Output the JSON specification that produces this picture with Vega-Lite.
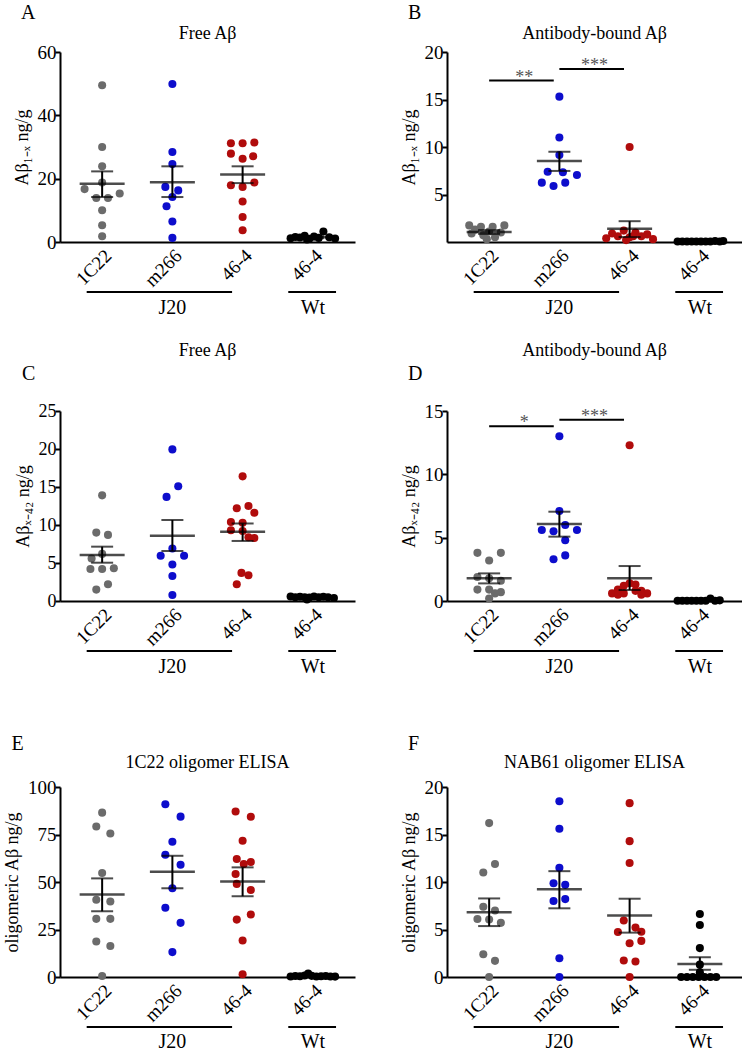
{
"$schema": "https://vega.github.io/schema/vega-lite/v6.json",
"background": "white",
"padding": {"left": 3, "top": 3, "right": 0, "bottom": 0},
"config": {
  "font": "Liberation Serif",
  "view": {"stroke": null},
  "axis": {"grid": false, "domainColor": "#000", "domainWidth": 2, "tickColor": "#000", "tickWidth": 2, "tickSize": 5, "labelFont": "Liberation Serif", "labelFontSize": 19, "labelColor": "#000", "titleFont": "Liberation Serif", "titleFontSize": 18, "titleFontWeight": "normal", "titleColor": "#000", "labelPadding": -1, "titlePadding": 6, "labelOverlap": false},
  "axisX": {"ticks": false, "labelAngle": -45, "labelPadding": 4},
  "title": {"font": "Liberation Serif", "fontWeight": "normal", "fontSize": 18, "color": "#000"},
  "text": {"font": "Liberation Serif"}
},
"datasets": {
  "pts": [
    {"panel":"A","group":"1C22","value":49.5,"col":0},{"panel":"A","group":"1C22","value":30,"col":0},{"panel":"A","group":"1C22","value":23.9,"col":0},{"panel":"A","group":"1C22","value":18.8,"col":0},{"panel":"A","group":"1C22","value":16.7,"col":-1.5},{"panel":"A","group":"1C22","value":15.3,"col":1.5},{"panel":"A","group":"1C22","value":13.9,"col":-0.5},{"panel":"A","group":"1C22","value":13.9,"col":0.5},{"panel":"A","group":"1C22","value":10,"col":0},{"panel":"A","group":"1C22","value":5.3,"col":0},{"panel":"A","group":"1C22","value":1.8,"col":0},
    {"panel":"A","group":"m266","value":49.9,"col":0},{"panel":"A","group":"m266","value":28.4,"col":0},{"panel":"A","group":"m266","value":24.6,"col":0},{"panel":"A","group":"m266","value":17.4,"col":-0.6},{"panel":"A","group":"m266","value":16.3,"col":0.5},{"panel":"A","group":"m266","value":14.2,"col":0},{"panel":"A","group":"m266","value":11.3,"col":-0.5},{"panel":"A","group":"m266","value":6.5,"col":0},{"panel":"A","group":"m266","value":1.3,"col":0},
    {"panel":"A","group":"46-4 J20","value":31.2,"col":-1},{"panel":"A","group":"46-4 J20","value":31.2,"col":0},{"panel":"A","group":"46-4 J20","value":31.4,"col":1},{"panel":"A","group":"46-4 J20","value":27.9,"col":-1},{"panel":"A","group":"46-4 J20","value":27.1,"col":0.9},{"panel":"A","group":"46-4 J20","value":26.3,"col":0},{"panel":"A","group":"46-4 J20","value":17.9,"col":-1},{"panel":"A","group":"46-4 J20","value":17.4,"col":0},{"panel":"A","group":"46-4 J20","value":18.8,"col":1},{"panel":"A","group":"46-4 J20","value":12.8,"col":0},{"panel":"A","group":"46-4 J20","value":7.9,"col":0},{"panel":"A","group":"46-4 J20","value":3.7,"col":0},
    {"panel":"A","group":"46-4 Wt","value":1.2,"col":-1.9},{"panel":"A","group":"46-4 Wt","value":1.6,"col":-1.5},{"panel":"A","group":"46-4 Wt","value":1.4,"col":-1.1},{"panel":"A","group":"46-4 Wt","value":2.0,"col":-0.7},{"panel":"A","group":"46-4 Wt","value":1.0,"col":-0.3},{"panel":"A","group":"46-4 Wt","value":1.7,"col":0.1},{"panel":"A","group":"46-4 Wt","value":1.3,"col":0.5},{"panel":"A","group":"46-4 Wt","value":0.8,"col":-0.5},{"panel":"A","group":"46-4 Wt","value":3.3,"col":0.9},{"panel":"A","group":"46-4 Wt","value":1.5,"col":1.4},{"panel":"A","group":"46-4 Wt","value":1.1,"col":1.9},

    {"panel":"B","group":"1C22","value":1.75,"col":-1.7},{"panel":"B","group":"1C22","value":1.6,"col":-0.7},{"panel":"B","group":"1C22","value":1.6,"col":0.3},{"panel":"B","group":"1C22","value":1.75,"col":1.3},{"panel":"B","group":"1C22","value":1.3,"col":-1.2},{"panel":"B","group":"1C22","value":1.1,"col":0},{"panel":"B","group":"1C22","value":1.0,"col":1},{"panel":"B","group":"1C22","value":0.7,"col":-0.5},{"panel":"B","group":"1C22","value":0.5,"col":0.5},{"panel":"B","group":"1C22","value":0.3,"col":-0.2},{"panel":"B","group":"1C22","value":0.9,"col":-1.5},
    {"panel":"B","group":"m266","value":15.3,"col":0},{"panel":"B","group":"m266","value":11.0,"col":0},{"panel":"B","group":"m266","value":9.15,"col":0},{"panel":"B","group":"m266","value":7.4,"col":-1},{"panel":"B","group":"m266","value":7.35,"col":0.3},{"panel":"B","group":"m266","value":7.05,"col":1.5},{"panel":"B","group":"m266","value":6.25,"col":-1.5},{"panel":"B","group":"m266","value":5.9,"col":-0.5},{"panel":"B","group":"m266","value":6.25,"col":0.5},
    {"panel":"B","group":"46-4 J20","value":10.0,"col":0},{"panel":"B","group":"46-4 J20","value":1.2,"col":-0.5},{"panel":"B","group":"46-4 J20","value":1.0,"col":0.5},{"panel":"B","group":"46-4 J20","value":0.9,"col":-1.5},{"panel":"B","group":"46-4 J20","value":0.8,"col":1.5},{"panel":"B","group":"46-4 J20","value":0.6,"col":-1},{"panel":"B","group":"46-4 J20","value":0.6,"col":1},{"panel":"B","group":"46-4 J20","value":0.5,"col":0},{"panel":"B","group":"46-4 J20","value":0.4,"col":-2},{"panel":"B","group":"46-4 J20","value":0.3,"col":2},{"panel":"B","group":"46-4 J20","value":0.2,"col":-0.3},{"panel":"B","group":"46-4 J20","value":0.6,"col":0.3},
    {"panel":"B","group":"46-4 Wt","value":0.05,"col":-1.9},{"panel":"B","group":"46-4 Wt","value":0.05,"col":-1.5},{"panel":"B","group":"46-4 Wt","value":0.05,"col":-1.1},{"panel":"B","group":"46-4 Wt","value":0.05,"col":-0.7},{"panel":"B","group":"46-4 Wt","value":0.05,"col":-0.3},{"panel":"B","group":"46-4 Wt","value":0.05,"col":0.1},{"panel":"B","group":"46-4 Wt","value":0.05,"col":0.5},{"panel":"B","group":"46-4 Wt","value":0.05,"col":0.9},{"panel":"B","group":"46-4 Wt","value":0.1,"col":1.3},{"panel":"B","group":"46-4 Wt","value":0.05,"col":1.7},{"panel":"B","group":"46-4 Wt","value":0.1,"col":2.0},

    {"panel":"C","group":"1C22","value":13.9,"col":0},{"panel":"C","group":"1C22","value":9.0,"col":-0.5},{"panel":"C","group":"1C22","value":8.7,"col":0.5},{"panel":"C","group":"1C22","value":6.2,"col":0},{"panel":"C","group":"1C22","value":5.6,"col":-0.9},{"panel":"C","group":"1C22","value":4.2,"col":-1},{"panel":"C","group":"1C22","value":4.2,"col":0},{"panel":"C","group":"1C22","value":4.3,"col":1},{"panel":"C","group":"1C22","value":1.5,"col":-0.5},{"panel":"C","group":"1C22","value":2.2,"col":0.5},
    {"panel":"C","group":"m266","value":19.95,"col":0},{"panel":"C","group":"m266","value":15.1,"col":0.5},{"panel":"C","group":"m266","value":13.7,"col":-0.5},{"panel":"C","group":"m266","value":6.9,"col":0},{"panel":"C","group":"m266","value":5.95,"col":-1},{"panel":"C","group":"m266","value":5.95,"col":1},{"panel":"C","group":"m266","value":4.8,"col":0},{"panel":"C","group":"m266","value":3.3,"col":0},{"panel":"C","group":"m266","value":0.8,"col":0},
    {"panel":"C","group":"46-4 J20","value":16.4,"col":0},{"panel":"C","group":"46-4 J20","value":12.2,"col":-0.5},{"panel":"C","group":"46-4 J20","value":12.5,"col":0.5},{"panel":"C","group":"46-4 J20","value":11.6,"col":1},{"panel":"C","group":"46-4 J20","value":10.4,"col":-1},{"panel":"C","group":"46-4 J20","value":10.3,"col":0},{"panel":"C","group":"46-4 J20","value":9.3,"col":-1},{"panel":"C","group":"46-4 J20","value":9.2,"col":0},{"panel":"C","group":"46-4 J20","value":8.4,"col":0.5},{"panel":"C","group":"46-4 J20","value":8.3,"col":1},{"panel":"C","group":"46-4 J20","value":3.7,"col":-0.1},{"panel":"C","group":"46-4 J20","value":3.4,"col":0.5},{"panel":"C","group":"46-4 J20","value":2.2,"col":-0.5},
    {"panel":"C","group":"46-4 Wt","value":0.6,"col":-1.9},{"panel":"C","group":"46-4 Wt","value":0.5,"col":-1.5},{"panel":"C","group":"46-4 Wt","value":0.55,"col":-1.1},{"panel":"C","group":"46-4 Wt","value":0.5,"col":-0.7},{"panel":"C","group":"46-4 Wt","value":0.45,"col":-0.3},{"panel":"C","group":"46-4 Wt","value":0.6,"col":0.1},{"panel":"C","group":"46-4 Wt","value":0.5,"col":0.5},{"panel":"C","group":"46-4 Wt","value":0.55,"col":0.9},{"panel":"C","group":"46-4 Wt","value":0.5,"col":1.3},{"panel":"C","group":"46-4 Wt","value":0.4,"col":1.8},{"panel":"C","group":"46-4 Wt","value":0.2,"col":-0.5},

    {"panel":"D","group":"1C22","value":3.8,"col":-1},{"panel":"D","group":"1C22","value":3.8,"col":1},{"panel":"D","group":"1C22","value":3.2,"col":0},{"panel":"D","group":"1C22","value":1.9,"col":-1},{"panel":"D","group":"1C22","value":1.8,"col":0},{"panel":"D","group":"1C22","value":1.6,"col":1},{"panel":"D","group":"1C22","value":0.9,"col":-1},{"panel":"D","group":"1C22","value":0.9,"col":0},{"panel":"D","group":"1C22","value":0.7,"col":1},{"panel":"D","group":"1C22","value":0.6,"col":0.5},{"panel":"D","group":"1C22","value":0.2,"col":0},
    {"panel":"D","group":"m266","value":13.0,"col":0},{"panel":"D","group":"m266","value":7.1,"col":0},{"panel":"D","group":"m266","value":5.6,"col":-1.5},{"panel":"D","group":"m266","value":5.5,"col":-0.5},{"panel":"D","group":"m266","value":5.6,"col":1.5},{"panel":"D","group":"m266","value":6.0,"col":0.5},{"panel":"D","group":"m266","value":4.8,"col":0.5},{"panel":"D","group":"m266","value":3.3,"col":-0.5},{"panel":"D","group":"m266","value":3.6,"col":0.5},
    {"panel":"D","group":"46-4 J20","value":12.3,"col":0},{"panel":"D","group":"46-4 J20","value":1.4,"col":0},{"panel":"D","group":"46-4 J20","value":1.2,"col":-0.5},{"panel":"D","group":"46-4 J20","value":1.3,"col":0.5},{"panel":"D","group":"46-4 J20","value":0.9,"col":-1},{"panel":"D","group":"46-4 J20","value":0.8,"col":1},{"panel":"D","group":"46-4 J20","value":0.6,"col":-1.5},{"panel":"D","group":"46-4 J20","value":0.6,"col":1.5},{"panel":"D","group":"46-4 J20","value":0.6,"col":-0.5},{"panel":"D","group":"46-4 J20","value":0.8,"col":0.5},{"panel":"D","group":"46-4 J20","value":0.5,"col":-1},{"panel":"D","group":"46-4 J20","value":0.5,"col":1},
    {"panel":"D","group":"46-4 Wt","value":0.02,"col":-1.9},{"panel":"D","group":"46-4 Wt","value":0.02,"col":-1.5},{"panel":"D","group":"46-4 Wt","value":0.02,"col":-1.1},{"panel":"D","group":"46-4 Wt","value":0.02,"col":-0.7},{"panel":"D","group":"46-4 Wt","value":0.02,"col":-0.3},{"panel":"D","group":"46-4 Wt","value":0.02,"col":0.1},{"panel":"D","group":"46-4 Wt","value":0.02,"col":0.5},{"panel":"D","group":"46-4 Wt","value":0.2,"col":0.9},{"panel":"D","group":"46-4 Wt","value":0.02,"col":1.3},{"panel":"D","group":"46-4 Wt","value":0.05,"col":1.7},

    {"panel":"E","group":"1C22","value":86.5,"col":0},{"panel":"E","group":"1C22","value":79.2,"col":-0.5},{"panel":"E","group":"1C22","value":75.5,"col":0.7},{"panel":"E","group":"1C22","value":54.7,"col":0},{"panel":"E","group":"1C22","value":40.7,"col":-0.5},{"panel":"E","group":"1C22","value":39.7,"col":0.7},{"panel":"E","group":"1C22","value":30.6,"col":-0.5},{"panel":"E","group":"1C22","value":30.6,"col":0.7},{"panel":"E","group":"1C22","value":18.7,"col":-0.5},{"panel":"E","group":"1C22","value":16.3,"col":0.7},{"panel":"E","group":"1C22","value":0.5,"col":0},
    {"panel":"E","group":"m266","value":90.9,"col":-0.6},{"panel":"E","group":"m266","value":84.4,"col":0.7},{"panel":"E","group":"m266","value":71.2,"col":0},{"panel":"E","group":"m266","value":64.3,"col":-0.6},{"panel":"E","group":"m266","value":59.1,"col":0.7},{"panel":"E","group":"m266","value":46.7,"col":0},{"panel":"E","group":"m266","value":36.4,"col":-0.6},{"panel":"E","group":"m266","value":28.5,"col":0.7},{"panel":"E","group":"m266","value":13.1,"col":0},
    {"panel":"E","group":"46-4 J20","value":87.1,"col":-0.6},{"panel":"E","group":"46-4 J20","value":84.3,"col":0.7},{"panel":"E","group":"46-4 J20","value":71.7,"col":0},{"panel":"E","group":"46-4 J20","value":62.1,"col":-0.5},{"panel":"E","group":"46-4 J20","value":60.5,"col":0.7},{"panel":"E","group":"46-4 J20","value":59.5,"col":0.1},{"panel":"E","group":"46-4 J20","value":54.2,"col":-0.6},{"panel":"E","group":"46-4 J20","value":49.0,"col":-0.5},{"panel":"E","group":"46-4 J20","value":45.8,"col":0.7},{"panel":"E","group":"46-4 J20","value":30.2,"col":-0.5},{"panel":"E","group":"46-4 J20","value":32.9,"col":0.7},{"panel":"E","group":"46-4 J20","value":19.2,"col":0},{"panel":"E","group":"46-4 J20","value":1.4,"col":0},
    {"panel":"E","group":"46-4 Wt","value":0.3,"col":-1.9},{"panel":"E","group":"46-4 Wt","value":0.5,"col":-1.5},{"panel":"E","group":"46-4 Wt","value":0.4,"col":-1.1},{"panel":"E","group":"46-4 Wt","value":1.8,"col":-0.4},{"panel":"E","group":"46-4 Wt","value":0.6,"col":-0.1},{"panel":"E","group":"46-4 Wt","value":0.3,"col":0.3},{"panel":"E","group":"46-4 Wt","value":0.4,"col":0.7},{"panel":"E","group":"46-4 Wt","value":0.5,"col":1.1},{"panel":"E","group":"46-4 Wt","value":0.3,"col":1.5},{"panel":"E","group":"46-4 Wt","value":0.2,"col":1.9},{"panel":"E","group":"46-4 Wt","value":0.8,"col":-0.7},

    {"panel":"F","group":"1C22","value":16.2,"col":0},{"panel":"F","group":"1C22","value":11.9,"col":0.5},{"panel":"F","group":"1C22","value":11.0,"col":-0.5},{"panel":"F","group":"1C22","value":7.4,"col":-0.5},{"panel":"F","group":"1C22","value":7.0,"col":0.5},{"panel":"F","group":"1C22","value":6.1,"col":-1},{"panel":"F","group":"1C22","value":6.05,"col":0},{"panel":"F","group":"1C22","value":5.7,"col":1},{"panel":"F","group":"1C22","value":2.4,"col":-0.5},{"panel":"F","group":"1C22","value":1.7,"col":0.5},{"panel":"F","group":"1C22","value":0,"col":0},
    {"panel":"F","group":"m266","value":18.5,"col":0},{"panel":"F","group":"m266","value":15.6,"col":0},{"panel":"F","group":"m266","value":11.5,"col":0},{"panel":"F","group":"m266","value":9.86,"col":-0.5},{"panel":"F","group":"m266","value":9.7,"col":0.5},{"panel":"F","group":"m266","value":8.0,"col":-0.5},{"panel":"F","group":"m266","value":8.2,"col":0.5},{"panel":"F","group":"m266","value":1.97,"col":0},{"panel":"F","group":"m266","value":0,"col":0},
    {"panel":"F","group":"46-4 J20","value":18.3,"col":0},{"panel":"F","group":"46-4 J20","value":14.3,"col":0},{"panel":"F","group":"46-4 J20","value":12.0,"col":0},{"panel":"F","group":"46-4 J20","value":5.95,"col":-0.5},{"panel":"F","group":"46-4 J20","value":5.2,"col":0.5},{"panel":"F","group":"46-4 J20","value":4.74,"col":-1},{"panel":"F","group":"46-4 J20","value":4.77,"col":1},{"panel":"F","group":"46-4 J20","value":3.56,"col":0},{"panel":"F","group":"46-4 J20","value":3.8,"col":1},{"panel":"F","group":"46-4 J20","value":1.73,"col":-0.5},{"panel":"F","group":"46-4 J20","value":1.63,"col":0.5},{"panel":"F","group":"46-4 J20","value":0,"col":0},
    {"panel":"F","group":"46-4 Wt","value":6.64,"col":0},{"panel":"F","group":"46-4 Wt","value":5.47,"col":0},{"panel":"F","group":"46-4 Wt","value":3.04,"col":0},{"panel":"F","group":"46-4 Wt","value":1.3,"col":0},{"panel":"F","group":"46-4 Wt","value":0,"col":-1.6},{"panel":"F","group":"46-4 Wt","value":0,"col":-1.1},{"panel":"F","group":"46-4 Wt","value":0,"col":-0.6},{"panel":"F","group":"46-4 Wt","value":0,"col":-0.1},{"panel":"F","group":"46-4 Wt","value":0,"col":0.4},{"panel":"F","group":"46-4 Wt","value":0,"col":0.9},{"panel":"F","group":"46-4 Wt","value":0,"col":1.4},{"panel":"F","group":"46-4 Wt","value":0.5,"col":0}
  ],
  "summ": [
    {"panel":"A","group":"1C22","mean":18.4,"lo":14.2,"hi":22.3},{"panel":"A","group":"m266","mean":18.9,"lo":14.2,"hi":23.9},{"panel":"A","group":"46-4 J20","mean":21.3,"lo":18.6,"hi":23.9},{"panel":"A","group":"46-4 Wt","mean":1.5,"lo":1.2,"hi":1.8},
    {"panel":"B","group":"1C22","mean":1.04,"lo":0.85,"hi":1.25},{"panel":"B","group":"m266","mean":8.52,"lo":7.48,"hi":9.5},{"panel":"B","group":"46-4 J20","mean":1.39,"lo":0.52,"hi":2.19},{"panel":"B","group":"46-4 Wt","mean":0.05,"lo":0.03,"hi":0.07},
    {"panel":"C","group":"1C22","mean":6.05,"lo":5.04,"hi":7.15},{"panel":"C","group":"m266","mean":8.6,"lo":6.58,"hi":10.66},{"panel":"C","group":"46-4 J20","mean":9.12,"lo":7.9,"hi":10.2},{"panel":"C","group":"46-4 Wt","mean":0.5,"lo":0.45,"hi":0.55},
    {"panel":"D","group":"1C22","mean":1.79,"lo":1.39,"hi":2.18},{"panel":"D","group":"m266","mean":6.08,"lo":5.08,"hi":7.05},{"panel":"D","group":"46-4 J20","mean":1.79,"lo":0.87,"hi":2.76},{"panel":"D","group":"46-4 Wt","mean":0.03,"lo":0.01,"hi":0.05},
    {"panel":"E","group":"1C22","mean":43.4,"lo":34.6,"hi":51.9},{"panel":"E","group":"m266","mean":55.4,"lo":46.7,"hi":63.8},{"panel":"E","group":"46-4 J20","mean":50.2,"lo":42.5,"hi":57.7},{"panel":"E","group":"46-4 Wt","mean":0.5,"lo":0.35,"hi":0.65},
    {"panel":"F","group":"1C22","mean":6.82,"lo":5.36,"hi":8.27},{"panel":"F","group":"m266","mean":9.24,"lo":7.23,"hi":11.14},{"panel":"F","group":"46-4 J20","mean":6.47,"lo":4.67,"hi":8.24},{"panel":"F","group":"46-4 Wt","mean":1.38,"lo":0.76,"hi":2.08}
  ],
  "sig": [
    {"panel":"B","from":"1C22","to":"m266","y":17,"label":"**"},{"panel":"B","from":"m266","to":"46-4 J20","y":18.2,"label":"***"},
    {"panel":"D","from":"1C22","to":"m266","y":13.8,"label":"*"},{"panel":"D","from":"m266","to":"46-4 J20","y":14.3,"label":"***"}
  ],
  "brk": [
    {"label":"J20","from":"1C22","mid":"m266","to":"46-4 J20"},
    {"label":"Wt","from":"46-4 Wt","mid":"46-4 Wt","to":"46-4 Wt"}
  ]
},
"spacing": 57,
"vconcat": [
 {"spacing": 24, "vconcat": [
  {"spacing": 45, "hconcat": [
   {"title": {"text": "A", "anchor": "start", "fontSize": 20, "offset": 2, "dx": 8}, "spacing": -2, "vconcat": [
    {"width": 295, "height": 190, "title": {"text": "Free Aβ", "anchor": "middle", "frame": "group", "offset": 0},
     "layer": [
      {"data": {"name": "pts"}, "transform": [{"filter": "datum.panel === 'A'"}], "mark": {"type": "circle", "size": 65, "opacity": 1},
       "encoding": {"x": {"field": "group", "type": "nominal", "scale": {"domain": ["1C22","m266","46-4 J20","46-4 Wt"], "paddingInner": 0, "paddingOuter": 0.1}, "axis": {"title": null, "labelExpr": "split(datum.value, ' ')[0]"}},
        "xOffset": {"field": "col", "type": "quantitative", "scale": {"domain": [-3, 3], "range": [0, 70.24]}},
        "y": {"field": "value", "type": "quantitative", "scale": {"domain": [0, 60], "nice": false}, "axis": {"values": [0, 20, 40, 60], "title": "Aβ₁₋ₓ ng/g", "labelOverlap": false}},
        "color": {"field": "group", "type": "nominal", "scale": {"domain": ["1C22","m266","46-4 J20","46-4 Wt"], "range": ["#6b6b6b","#0d0dcc","#b00c0c","#000000"]}, "legend": null}}},
      {"data": {"name": "summ"}, "transform": [{"filter": "datum.panel === 'A'"}], "mark": {"type": "tick", "size": 45, "thickness": 2.5, "color": "#000"},
       "encoding": {"x": {"field": "group", "type": "nominal", "bandPosition": 0.5}, "y": {"field": "mean", "type": "quantitative"}}},
      {"data": {"name": "summ"}, "transform": [{"filter": "datum.panel === 'A'"}], "mark": {"type": "rule", "strokeWidth": 2, "color": "#000"},
       "encoding": {"x": {"field": "group", "type": "nominal", "bandPosition": 0.5}, "y": {"field": "lo", "type": "quantitative"}, "y2": {"field": "hi"}}},
      {"data": {"name": "summ"}, "transform": [{"filter": "datum.panel === 'A'"}], "mark": {"type": "tick", "size": 22, "thickness": 2, "color": "#000"},
       "encoding": {"x": {"field": "group", "type": "nominal", "bandPosition": 0.5}, "y": {"field": "lo", "type": "quantitative"}}},
      {"data": {"name": "summ"}, "transform": [{"filter": "datum.panel === 'A'"}], "mark": {"type": "tick", "size": 22, "thickness": 2, "color": "#000"},
       "encoding": {"x": {"field": "group", "type": "nominal", "bandPosition": 0.5}, "y": {"field": "hi", "type": "quantitative"}}}
     ]},
    {"width": 295, "height": 2, "data": {"name": "brk"},
     "layer": [
      {"transform": [{"filter": "datum.label === 'J20'"}], "mark": {"type": "rule", "strokeWidth": 2, "color": "#000"},
       "encoding": {"x": {"field": "from", "type": "nominal", "bandPosition": 0.28, "scale": {"domain": ["1C22","m266","46-4 J20","46-4 Wt"], "paddingInner": 0, "paddingOuter": 0.1}, "axis": null}, "x2": {"field": "to", "bandPosition": 0.35}}},
      {"transform": [{"filter": "datum.label === 'Wt'"}], "mark": {"type": "rule", "strokeWidth": 2, "color": "#000"},
       "encoding": {"x": {"field": "from", "type": "nominal", "bandPosition": 0.15}, "x2": {"field": "to", "bandPosition": 0.83}}},
      {"mark": {"type": "text", "fontSize": 20, "baseline": "middle", "dy": 16, "color": "#000"},
       "encoding": {"x": {"field": "mid", "type": "nominal", "bandPosition": 0.5}, "text": {"field": "label"}}}
     ]}
   ]},
   {"title": {"text": "B", "anchor": "start", "fontSize": 20, "offset": 2, "dx": 8}, "spacing": -2, "vconcat": [
    {"width": 295, "height": 190, "title": {"text": "Antibody-bound Aβ", "anchor": "middle", "frame": "group", "offset": 0},
     "layer": [
      {"data": {"name": "pts"}, "transform": [{"filter": "datum.panel === 'B'"}], "mark": {"type": "circle", "size": 65, "opacity": 1},
       "encoding": {"x": {"field": "group", "type": "nominal", "scale": {"domain": ["1C22","m266","46-4 J20","46-4 Wt"], "paddingInner": 0, "paddingOuter": 0.1}, "axis": {"title": null, "labelExpr": "split(datum.value, ' ')[0]"}},
        "xOffset": {"field": "col", "type": "quantitative", "scale": {"domain": [-3, 3], "range": [0, 70.24]}},
        "y": {"field": "value", "type": "quantitative", "scale": {"domain": [0, 20], "nice": false}, "axis": {"values": [5, 10, 15, 20], "title": "Aβ₁₋ₓ ng/g", "labelOverlap": false}},
        "color": {"field": "group", "type": "nominal", "scale": {"domain": ["1C22","m266","46-4 J20","46-4 Wt"], "range": ["#6b6b6b","#0d0dcc","#b00c0c","#000000"]}, "legend": null}}},
      {"data": {"name": "summ"}, "transform": [{"filter": "datum.panel === 'B'"}], "mark": {"type": "tick", "size": 45, "thickness": 2.5, "color": "#000"},
       "encoding": {"x": {"field": "group", "type": "nominal", "bandPosition": 0.5}, "y": {"field": "mean", "type": "quantitative"}}},
      {"data": {"name": "summ"}, "transform": [{"filter": "datum.panel === 'B'"}], "mark": {"type": "rule", "strokeWidth": 2, "color": "#000"},
       "encoding": {"x": {"field": "group", "type": "nominal", "bandPosition": 0.5}, "y": {"field": "lo", "type": "quantitative"}, "y2": {"field": "hi"}}},
      {"data": {"name": "summ"}, "transform": [{"filter": "datum.panel === 'B'"}], "mark": {"type": "tick", "size": 22, "thickness": 2, "color": "#000"},
       "encoding": {"x": {"field": "group", "type": "nominal", "bandPosition": 0.5}, "y": {"field": "lo", "type": "quantitative"}}},
      {"data": {"name": "summ"}, "transform": [{"filter": "datum.panel === 'B'"}], "mark": {"type": "tick", "size": 22, "thickness": 2, "color": "#000"},
       "encoding": {"x": {"field": "group", "type": "nominal", "bandPosition": 0.5}, "y": {"field": "hi", "type": "quantitative"}}},
      {"data": {"name": "sig"}, "transform": [{"filter": "datum.panel === 'B'"}], "mark": {"type": "rule", "strokeWidth": 2, "color": "#000"},
       "encoding": {"x": {"field": "from", "type": "nominal", "bandPosition": 0.5}, "x2": {"field": "to", "bandPosition": 0.42}, "y": {"field": "y", "type": "quantitative"}}},
      {"data": {"name": "sig"}, "transform": [{"filter": "datum.panel === 'B'"}], "mark": {"type": "text", "fontSize": 18, "baseline": "alphabetic", "dy": 2, "color": "#555"},
       "encoding": {"x": {"field": "to", "type": "nominal", "bandPosition": 0}, "y": {"field": "y", "type": "quantitative"}, "text": {"field": "label"}}}
     ]},
    {"width": 295, "height": 2, "data": {"name": "brk"},
     "layer": [
      {"transform": [{"filter": "datum.label === 'J20'"}], "mark": {"type": "rule", "strokeWidth": 2, "color": "#000"},
       "encoding": {"x": {"field": "from", "type": "nominal", "bandPosition": 0.28, "scale": {"domain": ["1C22","m266","46-4 J20","46-4 Wt"], "paddingInner": 0, "paddingOuter": 0.1}, "axis": null}, "x2": {"field": "to", "bandPosition": 0.35}}},
      {"transform": [{"filter": "datum.label === 'Wt'"}], "mark": {"type": "rule", "strokeWidth": 2, "color": "#000"},
       "encoding": {"x": {"field": "from", "type": "nominal", "bandPosition": 0.15}, "x2": {"field": "to", "bandPosition": 0.83}}},
      {"mark": {"type": "text", "fontSize": 20, "baseline": "middle", "dy": 16, "color": "#000"},
       "encoding": {"x": {"field": "mid", "type": "nominal", "bandPosition": 0.5}, "text": {"field": "label"}}}
     ]}
   ]}
  ]},
  {"spacing": 45, "hconcat": [
   {"title": {"text": "C", "anchor": "start", "fontSize": 20, "offset": -42, "dx": 8}, "spacing": -2, "vconcat": [
    {"width": 295, "height": 190, "title": {"text": "Free Aβ", "anchor": "middle", "frame": "group", "offset": 42},
     "layer": [
      {"data": {"name": "pts"}, "transform": [{"filter": "datum.panel === 'C'"}], "mark": {"type": "circle", "size": 65, "opacity": 1},
       "encoding": {"x": {"field": "group", "type": "nominal", "scale": {"domain": ["1C22","m266","46-4 J20","46-4 Wt"], "paddingInner": 0, "paddingOuter": 0.1}, "axis": {"title": null, "labelExpr": "split(datum.value, ' ')[0]"}},
        "xOffset": {"field": "col", "type": "quantitative", "scale": {"domain": [-3, 3], "range": [0, 70.24]}},
        "y": {"field": "value", "type": "quantitative", "scale": {"domain": [0, 25], "nice": false}, "axis": {"tickCount": 6, "title": "Aβₓ₋₄₂ ng/g", "labelOverlap": false, "labelFontSize": 18}},
        "color": {"field": "group", "type": "nominal", "scale": {"domain": ["1C22","m266","46-4 J20","46-4 Wt"], "range": ["#6b6b6b","#0d0dcc","#b00c0c","#000000"]}, "legend": null}}},
      {"data": {"name": "summ"}, "transform": [{"filter": "datum.panel === 'C'"}], "mark": {"type": "tick", "size": 45, "thickness": 2.5, "color": "#000"},
       "encoding": {"x": {"field": "group", "type": "nominal", "bandPosition": 0.5}, "y": {"field": "mean", "type": "quantitative"}}},
      {"data": {"name": "summ"}, "transform": [{"filter": "datum.panel === 'C'"}], "mark": {"type": "rule", "strokeWidth": 2, "color": "#000"},
       "encoding": {"x": {"field": "group", "type": "nominal", "bandPosition": 0.5}, "y": {"field": "lo", "type": "quantitative"}, "y2": {"field": "hi"}}},
      {"data": {"name": "summ"}, "transform": [{"filter": "datum.panel === 'C'"}], "mark": {"type": "tick", "size": 22, "thickness": 2, "color": "#000"},
       "encoding": {"x": {"field": "group", "type": "nominal", "bandPosition": 0.5}, "y": {"field": "lo", "type": "quantitative"}}},
      {"data": {"name": "summ"}, "transform": [{"filter": "datum.panel === 'C'"}], "mark": {"type": "tick", "size": 22, "thickness": 2, "color": "#000"},
       "encoding": {"x": {"field": "group", "type": "nominal", "bandPosition": 0.5}, "y": {"field": "hi", "type": "quantitative"}}}
     ]},
    {"width": 295, "height": 2, "data": {"name": "brk"},
     "layer": [
      {"transform": [{"filter": "datum.label === 'J20'"}], "mark": {"type": "rule", "strokeWidth": 2, "color": "#000"},
       "encoding": {"x": {"field": "from", "type": "nominal", "bandPosition": 0.28, "scale": {"domain": ["1C22","m266","46-4 J20","46-4 Wt"], "paddingInner": 0, "paddingOuter": 0.1}, "axis": null}, "x2": {"field": "to", "bandPosition": 0.35}}},
      {"transform": [{"filter": "datum.label === 'Wt'"}], "mark": {"type": "rule", "strokeWidth": 2, "color": "#000"},
       "encoding": {"x": {"field": "from", "type": "nominal", "bandPosition": 0.15}, "x2": {"field": "to", "bandPosition": 0.83}}},
      {"mark": {"type": "text", "fontSize": 20, "baseline": "middle", "dy": 16, "color": "#000"},
       "encoding": {"x": {"field": "mid", "type": "nominal", "bandPosition": 0.5}, "text": {"field": "label"}}}
     ]}
   ]},
   {"title": {"text": "D", "anchor": "start", "fontSize": 20, "offset": -42, "dx": 8}, "spacing": -2, "vconcat": [
    {"width": 295, "height": 190, "title": {"text": "Antibody-bound Aβ", "anchor": "middle", "frame": "group", "offset": 42},
     "layer": [
      {"data": {"name": "pts"}, "transform": [{"filter": "datum.panel === 'D'"}], "mark": {"type": "circle", "size": 65, "opacity": 1},
       "encoding": {"x": {"field": "group", "type": "nominal", "scale": {"domain": ["1C22","m266","46-4 J20","46-4 Wt"], "paddingInner": 0, "paddingOuter": 0.1}, "axis": {"title": null, "labelExpr": "split(datum.value, ' ')[0]"}},
        "xOffset": {"field": "col", "type": "quantitative", "scale": {"domain": [-3, 3], "range": [0, 70.24]}},
        "y": {"field": "value", "type": "quantitative", "scale": {"domain": [0, 15], "nice": false}, "axis": {"values": [0, 5, 10, 15], "title": "Aβₓ₋₄₂ ng/g", "labelOverlap": false}},
        "color": {"field": "group", "type": "nominal", "scale": {"domain": ["1C22","m266","46-4 J20","46-4 Wt"], "range": ["#6b6b6b","#0d0dcc","#b00c0c","#000000"]}, "legend": null}}},
      {"data": {"name": "summ"}, "transform": [{"filter": "datum.panel === 'D'"}], "mark": {"type": "tick", "size": 45, "thickness": 2.5, "color": "#000"},
       "encoding": {"x": {"field": "group", "type": "nominal", "bandPosition": 0.5}, "y": {"field": "mean", "type": "quantitative"}}},
      {"data": {"name": "summ"}, "transform": [{"filter": "datum.panel === 'D'"}], "mark": {"type": "rule", "strokeWidth": 2, "color": "#000"},
       "encoding": {"x": {"field": "group", "type": "nominal", "bandPosition": 0.5}, "y": {"field": "lo", "type": "quantitative"}, "y2": {"field": "hi"}}},
      {"data": {"name": "summ"}, "transform": [{"filter": "datum.panel === 'D'"}], "mark": {"type": "tick", "size": 22, "thickness": 2, "color": "#000"},
       "encoding": {"x": {"field": "group", "type": "nominal", "bandPosition": 0.5}, "y": {"field": "lo", "type": "quantitative"}}},
      {"data": {"name": "summ"}, "transform": [{"filter": "datum.panel === 'D'"}], "mark": {"type": "tick", "size": 22, "thickness": 2, "color": "#000"},
       "encoding": {"x": {"field": "group", "type": "nominal", "bandPosition": 0.5}, "y": {"field": "hi", "type": "quantitative"}}},
      {"data": {"name": "sig"}, "transform": [{"filter": "datum.panel === 'D'"}], "mark": {"type": "rule", "strokeWidth": 2, "color": "#000"},
       "encoding": {"x": {"field": "from", "type": "nominal", "bandPosition": 0.5}, "x2": {"field": "to", "bandPosition": 0.42}, "y": {"field": "y", "type": "quantitative"}}},
      {"data": {"name": "sig"}, "transform": [{"filter": "datum.panel === 'D'"}], "mark": {"type": "text", "fontSize": 18, "baseline": "alphabetic", "dy": 2, "color": "#555"},
       "encoding": {"x": {"field": "to", "type": "nominal", "bandPosition": 0}, "y": {"field": "y", "type": "quantitative"}, "text": {"field": "label"}}}
     ]},
    {"width": 295, "height": 2, "data": {"name": "brk"},
     "layer": [
      {"transform": [{"filter": "datum.label === 'J20'"}], "mark": {"type": "rule", "strokeWidth": 2, "color": "#000"},
       "encoding": {"x": {"field": "from", "type": "nominal", "bandPosition": 0.28, "scale": {"domain": ["1C22","m266","46-4 J20","46-4 Wt"], "paddingInner": 0, "paddingOuter": 0.1}, "axis": null}, "x2": {"field": "to", "bandPosition": 0.35}}},
      {"transform": [{"filter": "datum.label === 'Wt'"}], "mark": {"type": "rule", "strokeWidth": 2, "color": "#000"},
       "encoding": {"x": {"field": "from", "type": "nominal", "bandPosition": 0.15}, "x2": {"field": "to", "bandPosition": 0.83}}},
      {"mark": {"type": "text", "fontSize": 20, "baseline": "middle", "dy": 16, "color": "#000"},
       "encoding": {"x": {"field": "mid", "type": "nominal", "bandPosition": 0.5}, "text": {"field": "label"}}}
     ]}
   ]}
  ]}
 ]},
 {"spacing": 45, "hconcat": [
  {"title": {"text": "E", "anchor": "start", "fontSize": 20, "offset": 0, "dx": 8}, "spacing": -2, "vconcat": [
   {"width": 295, "height": 190, "title": {"text": "1C22 oligomer ELISA", "anchor": "middle", "frame": "group", "offset": 6},
    "layer": [
     {"data": {"name": "pts"}, "transform": [{"filter": "datum.panel === 'E'"}], "mark": {"type": "circle", "size": 65, "opacity": 1},
      "encoding": {"x": {"field": "group", "type": "nominal", "scale": {"domain": ["1C22","m266","46-4 J20","46-4 Wt"], "paddingInner": 0, "paddingOuter": 0.1}, "axis": {"title": null, "labelExpr": "split(datum.value, ' ')[0]"}},
       "xOffset": {"field": "col", "type": "quantitative", "scale": {"domain": [-3, 3], "range": [0, 70.24]}},
       "y": {"field": "value", "type": "quantitative", "scale": {"domain": [0, 100], "nice": false}, "axis": {"values": [0, 25, 50, 75, 100], "title": "oligomeric Aβ ng/g", "labelOverlap": false}},
       "color": {"field": "group", "type": "nominal", "scale": {"domain": ["1C22","m266","46-4 J20","46-4 Wt"], "range": ["#6b6b6b","#0d0dcc","#b00c0c","#000000"]}, "legend": null}}},
     {"data": {"name": "summ"}, "transform": [{"filter": "datum.panel === 'E'"}], "mark": {"type": "tick", "size": 45, "thickness": 2.5, "color": "#000"},
      "encoding": {"x": {"field": "group", "type": "nominal", "bandPosition": 0.5}, "y": {"field": "mean", "type": "quantitative"}}},
     {"data": {"name": "summ"}, "transform": [{"filter": "datum.panel === 'E'"}], "mark": {"type": "rule", "strokeWidth": 2, "color": "#000"},
      "encoding": {"x": {"field": "group", "type": "nominal", "bandPosition": 0.5}, "y": {"field": "lo", "type": "quantitative"}, "y2": {"field": "hi"}}},
     {"data": {"name": "summ"}, "transform": [{"filter": "datum.panel === 'E'"}], "mark": {"type": "tick", "size": 22, "thickness": 2, "color": "#000"},
      "encoding": {"x": {"field": "group", "type": "nominal", "bandPosition": 0.5}, "y": {"field": "lo", "type": "quantitative"}}},
     {"data": {"name": "summ"}, "transform": [{"filter": "datum.panel === 'E'"}], "mark": {"type": "tick", "size": 22, "thickness": 2, "color": "#000"},
      "encoding": {"x": {"field": "group", "type": "nominal", "bandPosition": 0.5}, "y": {"field": "hi", "type": "quantitative"}}}
    ]},
   {"width": 295, "height": 2, "data": {"name": "brk"},
    "layer": [
     {"transform": [{"filter": "datum.label === 'J20'"}], "mark": {"type": "rule", "strokeWidth": 2, "color": "#000"},
      "encoding": {"x": {"field": "from", "type": "nominal", "bandPosition": 0.28, "scale": {"domain": ["1C22","m266","46-4 J20","46-4 Wt"], "paddingInner": 0, "paddingOuter": 0.1}, "axis": null}, "x2": {"field": "to", "bandPosition": 0.35}}},
     {"transform": [{"filter": "datum.label === 'Wt'"}], "mark": {"type": "rule", "strokeWidth": 2, "color": "#000"},
      "encoding": {"x": {"field": "from", "type": "nominal", "bandPosition": 0.15}, "x2": {"field": "to", "bandPosition": 0.83}}},
     {"mark": {"type": "text", "fontSize": 20, "baseline": "middle", "dy": 15, "color": "#000"},
      "encoding": {"x": {"field": "mid", "type": "nominal", "bandPosition": 0.5}, "text": {"field": "label"}}}
    ]}
  ]},
  {"title": {"text": "F", "anchor": "start", "fontSize": 20, "offset": 0, "dx": 8}, "spacing": -2, "vconcat": [
   {"width": 295, "height": 190, "title": {"text": "NAB61 oligomer ELISA", "anchor": "middle", "frame": "group", "offset": 6},
    "layer": [
     {"data": {"name": "pts"}, "transform": [{"filter": "datum.panel === 'F'"}], "mark": {"type": "circle", "size": 65, "opacity": 1},
      "encoding": {"x": {"field": "group", "type": "nominal", "scale": {"domain": ["1C22","m266","46-4 J20","46-4 Wt"], "paddingInner": 0, "paddingOuter": 0.1}, "axis": {"title": null, "labelExpr": "split(datum.value, ' ')[0]"}},
       "xOffset": {"field": "col", "type": "quantitative", "scale": {"domain": [-3, 3], "range": [0, 70.24]}},
       "y": {"field": "value", "type": "quantitative", "scale": {"domain": [0, 20], "nice": false}, "axis": {"values": [0, 5, 10, 15, 20], "title": "oligomeric Aβ ng/g", "labelOverlap": false}},
       "color": {"field": "group", "type": "nominal", "scale": {"domain": ["1C22","m266","46-4 J20","46-4 Wt"], "range": ["#6b6b6b","#0d0dcc","#b00c0c","#000000"]}, "legend": null}}},
     {"data": {"name": "summ"}, "transform": [{"filter": "datum.panel === 'F'"}], "mark": {"type": "tick", "size": 45, "thickness": 2.5, "color": "#000"},
      "encoding": {"x": {"field": "group", "type": "nominal", "bandPosition": 0.5}, "y": {"field": "mean", "type": "quantitative"}}},
     {"data": {"name": "summ"}, "transform": [{"filter": "datum.panel === 'F'"}], "mark": {"type": "rule", "strokeWidth": 2, "color": "#000"},
      "encoding": {"x": {"field": "group", "type": "nominal", "bandPosition": 0.5}, "y": {"field": "lo", "type": "quantitative"}, "y2": {"field": "hi"}}},
     {"data": {"name": "summ"}, "transform": [{"filter": "datum.panel === 'F'"}], "mark": {"type": "tick", "size": 22, "thickness": 2, "color": "#000"},
      "encoding": {"x": {"field": "group", "type": "nominal", "bandPosition": 0.5}, "y": {"field": "lo", "type": "quantitative"}}},
     {"data": {"name": "summ"}, "transform": [{"filter": "datum.panel === 'F'"}], "mark": {"type": "tick", "size": 22, "thickness": 2, "color": "#000"},
      "encoding": {"x": {"field": "group", "type": "nominal", "bandPosition": 0.5}, "y": {"field": "hi", "type": "quantitative"}}}
    ]},
   {"width": 295, "height": 2, "data": {"name": "brk"},
    "layer": [
     {"transform": [{"filter": "datum.label === 'J20'"}], "mark": {"type": "rule", "strokeWidth": 2, "color": "#000"},
      "encoding": {"x": {"field": "from", "type": "nominal", "bandPosition": 0.28, "scale": {"domain": ["1C22","m266","46-4 J20","46-4 Wt"], "paddingInner": 0, "paddingOuter": 0.1}, "axis": null}, "x2": {"field": "to", "bandPosition": 0.35}}},
     {"transform": [{"filter": "datum.label === 'Wt'"}], "mark": {"type": "rule", "strokeWidth": 2, "color": "#000"},
      "encoding": {"x": {"field": "from", "type": "nominal", "bandPosition": 0.15}, "x2": {"field": "to", "bandPosition": 0.83}}},
     {"mark": {"type": "text", "fontSize": 20, "baseline": "middle", "dy": 15, "color": "#000"},
      "encoding": {"x": {"field": "mid", "type": "nominal", "bandPosition": 0.5}, "text": {"field": "label"}}}
    ]}
  ]}
 ]}
]
}
